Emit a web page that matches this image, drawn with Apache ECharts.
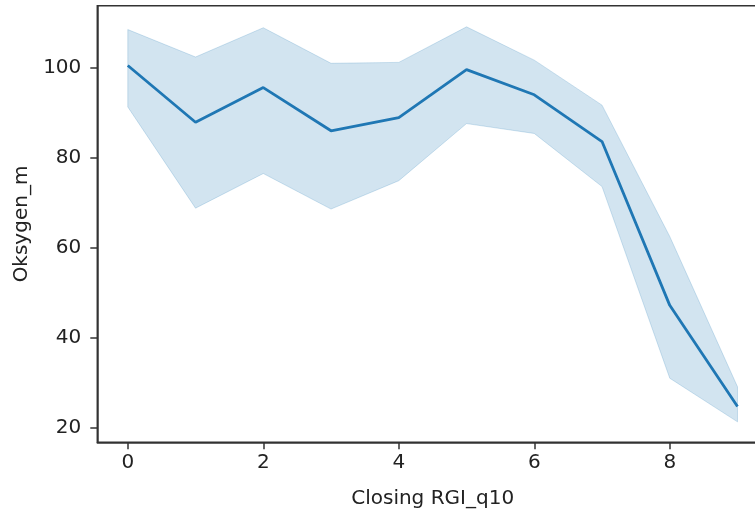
<!DOCTYPE html>
<html>
<head>
<meta charset="utf-8">
<script src="https://cdn.jsdelivr.net/npm/echarts@6/dist/echarts.min.js"></script>
<style>
html,body{margin:0;padding:0;background:#fff;}
#chart{width:755px;height:511px;}
</style>
</head>
<body>
<div id="chart"></div>
<script>
const xValues = [0, 1, 2, 3, 4, 5, 6, 7, 8, 9];
const meanValues = [100.5, 87.9, 95.6, 86.0, 88.9, 99.6, 94.0, 83.6, 47.2, 24.7];
const upperValues = [108.5, 102.4, 108.9, 101.0, 101.2, 109.1, 101.7, 91.7, 62.5, 29.1];
const lowerValues = [91.3, 68.8, 76.5, 68.6, 74.9, 87.6, 85.4, 73.6, 31.0, 21.3];
const xTicks = [0, 2, 4, 6, 8];
const yTicks = [20, 40, 60, 80, 100];
const xLabel = 'Closing RGI_q10';
const yLabel = 'Oksygen_m';

const FONT = 'DejaVu Sans';
const chart = echarts.init(document.getElementById('chart'), null, {renderer: 'canvas'});

const option = {
  animation: false,
  backgroundColor: '#ffffff',
  grid: {
    left: 97.3, top: 5.7, width: 670.7, height: 436.6,
    outerBoundsMode: 'none', containLabel: false,
    show: true, borderColor: '#333', borderWidth: 1.5, backgroundColor: 'transparent'
  },
  xAxis: {
    type: 'value', min: -0.45, max: 9.45,
    name: xLabel, nameLocation: 'middle', nameGap: 46,
    nameTextStyle: {fontFamily: FONT, fontSize: 20, color: '#222'},
    axisLine: {show: true, onZero: false, lineStyle: {color: '#333', width: 1.5}},
    axisTick: {show: true, length: 7, lineStyle: {color: '#333', width: 1.5}, customValues: xTicks},
    axisLabel: {fontFamily: FONT, fontSize: 20, color: '#222', margin: 10, customValues: xTicks},
    splitLine: {show: false}
  },
  yAxis: {
    type: 'value', min: 16.76, max: 113.8,
    name: yLabel, nameLocation: 'middle', nameGap: 58, nameRotate: 90,
    nameTextStyle: {fontFamily: FONT, fontSize: 20, color: '#222'},
    axisLine: {show: true, onZero: false, lineStyle: {color: '#333', width: 1.5}},
    axisTick: {show: true, length: 7, lineStyle: {color: '#333', width: 1.5}, customValues: yTicks},
    axisLabel: {fontFamily: FONT, fontSize: 20, color: '#222', margin: 16, customValues: yTicks},
    splitLine: {show: false}
  },
  series: [
    {
      type: 'custom',
      data: [[0, 0]],
      silent: true,
      z: 1,
      renderItem: function (params, api) {
        const pts = [];
        for (let i = 0; i < xValues.length; i++) pts.push(api.coord([xValues[i], upperValues[i]]));
        for (let i = xValues.length - 1; i >= 0; i--) pts.push(api.coord([xValues[i], lowerValues[i]]));
        return {
          type: 'polygon',
          shape: {points: pts},
          style: {fill: 'rgba(31,119,180,0.2)', stroke: 'rgba(31,119,180,0.2)', lineWidth: 1}
        };
      }
    },
    {
      type: 'line',
      data: xValues.map((x, i) => [x, meanValues[i]]),
      showSymbol: false,
      z: 3,
      lineStyle: {color: '#1f77b4', width: 2.8},
      itemStyle: {color: '#1f77b4'}
    }
  ]
};
chart.setOption(option);
</script>
</body>
</html>
